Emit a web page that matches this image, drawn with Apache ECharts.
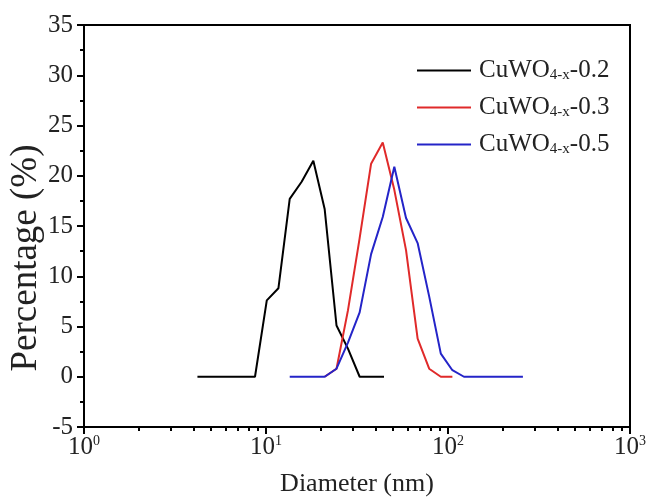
<!DOCTYPE html>
<html>
<head>
<meta charset="utf-8">
<script src="https://cdn.jsdelivr.net/npm/echarts@6/dist/echarts.min.js"></script>
<style>
  html, body { margin: 0; padding: 0; background: #fff; }
  #sizecharts { width: 650px; height: 504px; }
</style>
</head>
<body>
<div id="sizecharts"></div>
<script>
// particle size distribution (DLS), diameter in nm vs percentage
const seriesNames = ["CuWO4-x-0.2", "CuWO4-x-0.3", "CuWO4-x-0.5"];
const seriesColors = ["#000000", "#e02a2a", "#2424c8"];

const diam02 = [4.2, 8.7, 10.1, 11.7, 13.5, 15.7, 18.2, 21.0, 24.4, 28.2, 32.7, 44.5];
const pct02 = [0, 0, 7.6, 8.8, 17.7, 19.4, 21.5, 16.7, 5.1, 2.8, 0, 0];

const diam03 = [21.0, 24.4, 28.2, 32.7, 37.8, 43.8, 50.7, 58.8, 68.1, 78.8, 91.3, 105.7];
const pct03 = [0, 0.8, 6.6, 13.8, 21.2, 23.3, 18.6, 12.6, 3.8, 0.8, 0, 0];

const diam05 = [13.5, 21.0, 24.4, 28.2, 32.7, 37.8, 43.8, 50.7, 58.8, 68.1, 78.8, 91.3, 105.7, 122.4, 258];
const pct05 = [0, 0, 0.8, 3.4, 6.4, 12.2, 15.9, 20.9, 15.8, 13.3, 8.0, 2.3, 0.65, 0, 0];

const xMinorTicks = [2, 3, 4, 5, 6, 7, 8, 9, 20, 30, 40, 50, 60, 70, 80, 90, 200, 300, 400, 500, 600, 700, 800, 900];

function pairs(xs, ys) {
  return xs.map((x, i) => [x, ys[i]]);
}

const serif = "'Liberation Serif', 'DejaVu Serif', serif";
const myChart = echarts.init(document.getElementById("sizecharts"));

myChart.setOption({
  animation: false,
  textStyle: { fontFamily: serif },
  grid: {
    left: 84,
    right: 20,
    top: 25,
    bottom: 77,
    outerBoundsMode: "none",
    containLabel: false,
    show: true,
    borderColor: "#000",
    borderWidth: 2
  },
  legend: {
    orient: "vertical",
    left: 412,
    top: 53,
    icon: "rect",
    itemWidth: 54,
    itemHeight: 2,
    itemGap: 12,
    data: seriesNames,
    formatter: function (name) {
      const tail = name.split("4-x")[1];
      return "{p|}{a|CuWO}{s|4-x}{a|" + tail + "}";
    },
    textStyle: {
      color: "#222",
      rich: {
        p: { width: 3 },
        a: { fontFamily: serif, fontSize: 25, color: "#222" },
        s: { fontFamily: serif, fontSize: 15, color: "#222", padding: [10, 0, 0, 0] }
      }
    }
  },
  xAxis: [
    {
      type: "log",
      logBase: 10,
      min: 1,
      max: 1000,
      name: "Diameter (nm)",
      nameLocation: "middle",
      nameGap: 44,
      nameMoveOverlap: false,
      nameTextStyle: { fontFamily: serif, fontSize: 26, color: "#222" },
      axisLine: { onZero: false, lineStyle: { color: "#000", width: 2 } },
      axisTick: { show: true, inside: false, length: 7, lineStyle: { color: "#000", width: 2 } },
      splitLine: { show: false },
      axisLabel: {
        margin: 7,
        color: "#222",
        formatter: function (v) {
          return "{b|10}{e|" + Math.round(Math.log10(v)) + "}";
        },
        rich: {
          b: { fontFamily: serif, fontSize: 25, color: "#222" },
          e: { fontFamily: serif, fontSize: 14, color: "#222", padding: [0, 0, 12, 0] }
        }
      }
    },
    {
      // minor ticks at 2..9 of each decade
      type: "log",
      logBase: 10,
      min: 1,
      max: 1000,
      position: "bottom",
      axisLine: { show: false, onZero: false },
      axisLabel: { show: false },
      splitLine: { show: false },
      axisTick: {
        show: true,
        inside: false,
        length: 4,
        customValues: xMinorTicks,
        lineStyle: { color: "#000", width: 2 }
      }
    }
  ],
  yAxis: {
    type: "value",
    min: -5,
    max: 35,
    interval: 5,
    name: "Percentage (%)",
    nameLocation: "middle",
    nameGap: 39,
    nameMoveOverlap: false,
    // title sits a little below the middle of the axis
    nameTextStyle: { fontFamily: serif, fontSize: 37, color: "#222", padding: [0, 64, 0, 0] },
    axisLine: { show: true, onZero: false, lineStyle: { color: "#000", width: 2 } },
    axisTick: { show: true, inside: false, length: 7, lineStyle: { color: "#000", width: 2 } },
    minorTick: { show: true, splitNumber: 2, length: 4, lineStyle: { color: "#000", width: 2 } },
    splitLine: { show: false },
    axisLabel: { margin: 11, fontFamily: serif, fontSize: 25, color: "#222" }
  },
  series: [
    {
      name: seriesNames[0],
      type: "line",
      symbol: "none",
      color: seriesColors[0],
      lineStyle: { width: 2 },
      data: pairs(diam02, pct02)
    },
    {
      name: seriesNames[1],
      type: "line",
      symbol: "none",
      color: seriesColors[1],
      lineStyle: { width: 2 },
      data: pairs(diam03, pct03)
    },
    {
      name: seriesNames[2],
      type: "line",
      symbol: "none",
      color: seriesColors[2],
      lineStyle: { width: 2 },
      data: pairs(diam05, pct05)
    }
  ]
});
</script>
</body>
</html>
